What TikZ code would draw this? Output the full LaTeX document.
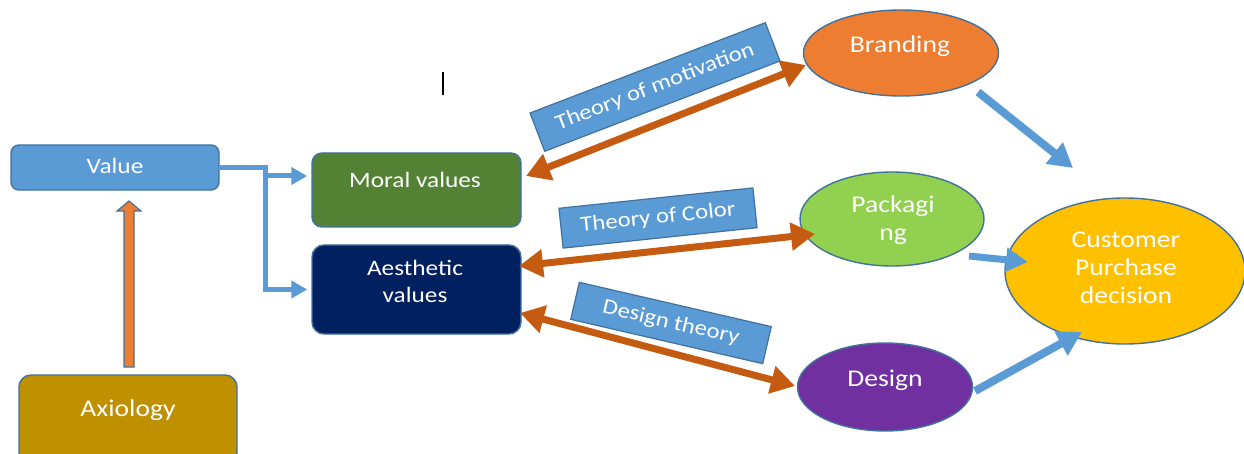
\documentclass[tikz,border=0pt]{standalone}
\usepackage{fontspec}
\setmainfont{Carlito}[FakeStretch=1.15]
\usetikzlibrary{arrows.meta,calc,shapes.geometric}

\definecolor{valblue}{HTML}{5B9BD5}
\definecolor{edgeblue}{HTML}{41719C}
\definecolor{axiogold}{HTML}{BF9000}
\definecolor{moralgreen}{HTML}{548235}
\definecolor{aesnavy}{HTML}{002060}
\definecolor{brandorange}{HTML}{ED7D31}
\definecolor{packgreen}{HTML}{92D050}
\definecolor{designpurple}{HTML}{7030A0}
\definecolor{custyellow}{HTML}{FFC000}
\definecolor{linkorange}{HTML}{C55A11}

\begin{document}
\begin{tikzpicture}[x=1pt,y=-1pt,
  box/.style={draw=edgeblue, line width=1.4pt, inner sep=0pt},
  oval/.style={ellipse, draw=edgeblue, line width=1.4pt, inner sep=0pt},
  txt/.style={text=white, align=center, inner sep=0pt, font=\fontsize{22}{27}\selectfont},
  bigtxt/.style={text=white, align=center, inner sep=0pt, font=\fontsize{24}{28}\selectfont},
  tag/.style={draw=edgeblue, line width=1.2pt, fill=valblue, text=white, inner sep=0pt,
    font=\fontsize{21.5}{25}\selectfont},
  twoway/.style={draw=linkorange, line width=7pt,
    {Triangle[width=27pt,length=24pt]}-{Triangle[width=27pt,length=24pt]}},
  flow/.style={draw=valblue, line width=8pt, -{Triangle[width=26pt,length=24pt]}},
  elbow/.style={draw=valblue, line width=5pt, line join=miter, -{Triangle[width=17pt,length=16pt]}}
]
\clip (0,0) rectangle (1244,454);
\fill[white] (0,0) rectangle (1244,454);

% left column boxes
\node[box, fill=valblue, rounded corners=8pt, minimum width=208pt, minimum height=45pt] (v) at (115,167.5) {};
\node[txt] (vt) at (115,166) {Value};
\node[box, fill=axiogold, rounded corners=12pt, minimum width=218pt, minimum height=90pt] (ax) at (128,420) {};
\node[bigtxt] (axt) at (128,410) {Axiology};

% value boxes
\node[box, fill=moralgreen, rounded corners=10pt, minimum width=209pt, minimum height=74pt] (mor) at (416.5,190) {};
\node[txt] (mort) at (415,180) {Moral values};
\node[box, fill=aesnavy, rounded corners=12pt, minimum width=209pt, minimum height=89pt] (aes) at (416.5,289.5) {};
\node[txt] (aest) at (415,281) {Aesthetic\\values};

% outcome ellipses
\node[oval, fill=brandorange, minimum width=195pt, minimum height=86pt] (br) at (901,53) {};
\node[bigtxt] (brt) at (900,46) {Branding};
\node[oval, fill=packgreen, minimum width=184pt, minimum height=94pt] (pk) at (892,219) {};
\node[bigtxt] (pkt) at (893,220) {Packagi\\ng};
\node[oval, fill=designpurple, minimum width=175pt, minimum height=88pt] (de) at (885,387) {};
\node[bigtxt] (det) at (885,380) {Design};
\node[oval, fill=custyellow, minimum width=240pt, minimum height=146pt] (cu) at (1125,271) {};
\node[bigtxt] (cut) at (1126,268) {Customer\\Purchase\\decision};

% Axiology -> Value block arrow
\coordinate (axb) at (129,367);
\coordinate (axh) at (129,201);
\draw[draw=edgeblue, fill=brandorange, line width=1.1pt, line join=miter]
  ($(axb)+(-5,0)$) -- ($(axh)+(-5,10)$) -- ($(axh)+(-12,10)$) -- (axh)
  -- ($(axh)+(12,10)$) -- ($(axh)+(5,10)$) -- ($(axb)+(5,0)$) -- cycle;

% Value -> Moral / Aesthetic elbow connector
\coordinate (j) at (265,176);
\draw[elbow] (v.east) -| (j |- aes.west) -- ($(aes.west)+(-4,0)$);
\draw[elbow] ($(j)+(-2.5,0)$) -- ($(j -| mor.west)+(-4,0)$);

% two-way theory links
\coordinate (m1) at (526,176);
\coordinate (m2) at (806,65);
\coordinate (c1) at (519,266);
\coordinate (c2) at (815,234);
\coordinate (d1) at (520,313);
\coordinate (d2) at (795,386);
\draw[twoway] (m1) -- (m2);
\draw[twoway] (c1) -- (c2);
\draw[twoway] (d1) -- (d2);

% theory labels
\node[tag, rotate=21, minimum width=252pt, minimum height=41pt] (tm) at (655,87) {Theory of motivation};
\node[tag, rotate=6, minimum width=195pt, minimum height=40pt] (tc) at (658,218) {Theory of Color};
\node[tag, rotate=-13, minimum width=197pt, minimum height=38pt] (td) at (671,323) {Design theory};

% flows into the purchase decision
\coordinate (f1a) at (978,92);
\coordinate (f1b) at (1073,168);
\coordinate (f2a) at (969,256);
\coordinate (f2b) at (1028,262);
\coordinate (f3a) at (975,391);
\coordinate (f3b) at (1082,332);
\draw[flow] (f1a) -- (f1b);
\draw[flow, line width=7pt, -{Triangle[width=23pt,length=22pt]}] (f2a) -- (f2b);
\draw[flow] (f3a) -- (f3b);

% text cursor mark
\coordinate (k1) at (443,72);
\coordinate (k2) at (443,95);
\draw[black, line width=1.2pt] (k1) -- (k2);
\end{tikzpicture}
\end{document}
